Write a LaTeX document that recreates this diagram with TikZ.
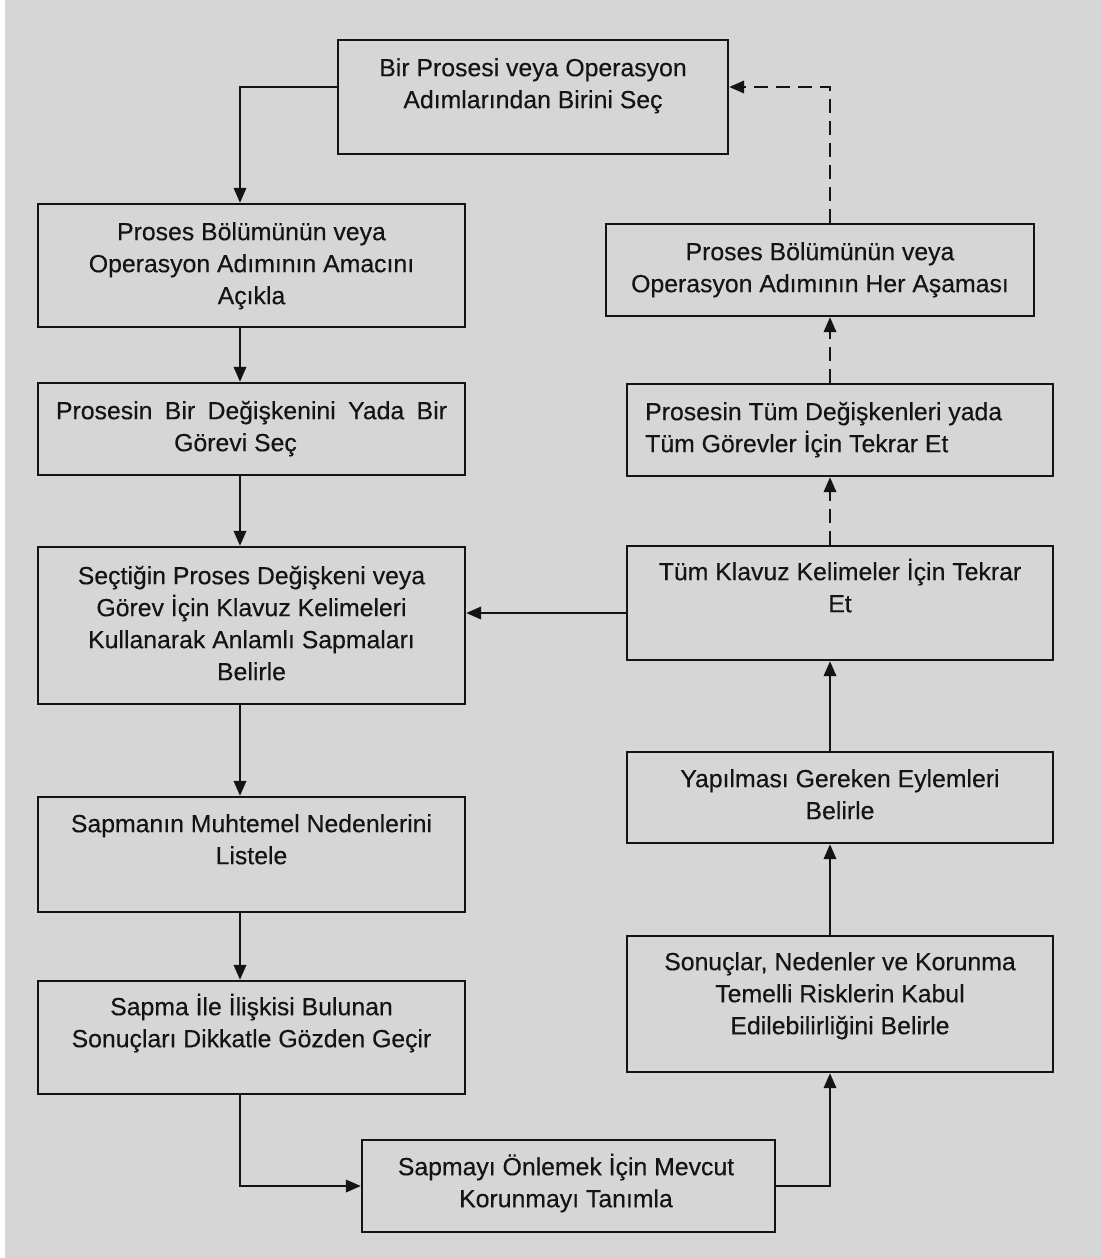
\documentclass[tikz,border=0pt]{standalone}
\usepackage{fontspec}
\setmainfont{Liberation Sans}
\usetikzlibrary{arrows.meta,calc}
\definecolor{bg}{HTML}{D6D6D6}
\definecolor{ink}{HTML}{141414}
\begin{document}
\begin{tikzpicture}[x=1pt,y=-1pt,
  box/.style={draw=ink, line width=2.4pt, fill=bg, inner sep=0pt, rectangle},
  txt/.style={inner sep=0pt, align=center, text=ink, font=\fontsize{24.8}{32}\selectfont\addfontfeatures{FakeBold=0.3}},
  txtl/.style={txt, align=left},
  arr/.style={draw=ink, line width=2.2pt, -{Triangle[length=15pt,width=12.5pt]}},
  dasharr/.style={arr, dash pattern=on 14pt off 8pt}
]
\useasboundingbox (0,0) rectangle (1102,1258);
\fill[white] (0,0) rectangle (5,1258);
\fill[bg] (5,0) rectangle (1102,1258);

% boxes
\node[box, minimum width=390pt, minimum height=114pt] (top) at (533,97) {};
\node[box, minimum width=427pt, minimum height=123pt] (L1) at (251.5,265.5) {};
\node[box, minimum width=427pt, minimum height=92pt] (L2) at (251.5,429) {};
\node[box, minimum width=427pt, minimum height=157pt] (L3) at (251.5,625.5) {};
\node[box, minimum width=427pt, minimum height=115pt] (L4) at (251.5,854.5) {};
\node[box, minimum width=427pt, minimum height=113pt] (L5) at (251.5,1037.5) {};
\node[box, minimum width=413pt, minimum height=92pt] (B) at (568.5,1186) {};
\node[box, minimum width=428pt, minimum height=92pt] (R1) at (820,270) {};
\node[box, minimum width=426pt, minimum height=92pt] (R2) at (840,430) {};
\node[box, minimum width=426pt, minimum height=114pt] (R3) at (840,603) {};
\node[box, minimum width=426pt, minimum height=91pt] (R4) at (840,797.5) {};
\node[box, minimum width=426pt, minimum height=136pt] (R5) at (840,1004) {};

% texts
\node[txt, anchor=north] (ttop) at (533,53.6) {\strut Bir Prosesi veya Operasyon\\Adımlarından Birini Seç};
\node[txt, anchor=north] (tL1) at (251.5,217.6) {\strut Proses Bölümünün veya\\Operasyon Adımının Amacını\\Açıkla};
\node[txt, anchor=north] (tL2) at (251.5,396.6) {\strut\makebox[391pt][s]{Prosesin Bir Değişkenini Yada Bir}\\Görevi Seç\hspace*{32pt}};
\node[txt, anchor=north] (tL3) at (251.5,561.6) {\strut Seçtiğin Proses Değişkeni veya\\Görev İçin Klavuz Kelimeleri\\Kullanarak Anlamlı Sapmaları\\Belirle};
\node[txt, anchor=north] (tL4) at (251.5,809.6) {\strut Sapmanın Muhtemel Nedenlerini\\Listele};
\node[txt, anchor=north] (tL5) at (251.5,992.6) {\strut Sapma İle İlişkisi Bulunan\\Sonuçları Dikkatle Gözden Geçir};
\node[txt, anchor=north] (tB) at (566,1152.6) {\strut Sapmayı Önlemek İçin Mevcut\\Korunmayı Tanımla};
\node[txt, anchor=north] (tR1) at (820,237.6) {\strut Proses Bölümünün veya\\Operasyon Adımının Her Aşaması};
\node[txtl, anchor=north west] (tR2) at (645,397.6) {\strut Prosesin Tüm Değişkenleri yada\\Tüm Görevler İçin Tekrar Et};
\node[txt, anchor=north] (tR3) at (840,557.6) {\strut Tüm Klavuz Kelimeler İçin Tekrar\\Et};
\node[txt, anchor=north] (tR4) at (840,764.6) {\strut Yapılması Gereken Eylemleri\\Belirle};
\node[txt, anchor=north] (tR5) at (840,947.6) {\strut Sonuçlar, Nedenler ve Korunma\\Temelli Risklerin Kabul\\Edilebilirliğini Belirle};

% connectors
\draw[arr] ([yshift=10pt]top.west) -| ([xshift=-11.5pt]L1.north);
\draw[arr] ([xshift=-11.5pt]L1.south) -- ([xshift=-11.5pt]L2.north);
\draw[arr] ([xshift=-11.5pt]L2.south) -- ([xshift=-11.5pt]L3.north);
\draw[arr] ([xshift=-11.5pt]L3.south) -- ([xshift=-11.5pt]L4.north);
\draw[arr] ([xshift=-11.5pt]L4.south) -- ([xshift=-11.5pt]L5.north);
\draw[arr] ([xshift=-11.5pt]L5.south) |- (B.west);
\draw[arr] (B.east) -| ([xshift=-10pt]R5.south);
\draw[arr] ([xshift=-10pt]R5.north) -- ([xshift=-10pt]R4.south);
\draw[arr] ([xshift=-10pt]R4.north) -- ([xshift=-10pt]R3.south);
\draw[arr] ([yshift=-10pt]R3.west) -- ([yshift=-10pt]R3.west -| L3.east);
\draw[dasharr] ([xshift=-10pt]R3.north) -- ([xshift=-10pt]R2.south);
\draw[dasharr] ([xshift=-10pt]R2.north) -- ([xshift=10pt]R1.south);
\draw[dasharr] ([xshift=10pt]R1.north) |- ([yshift=10pt]top.east);
\end{tikzpicture}
\end{document}
